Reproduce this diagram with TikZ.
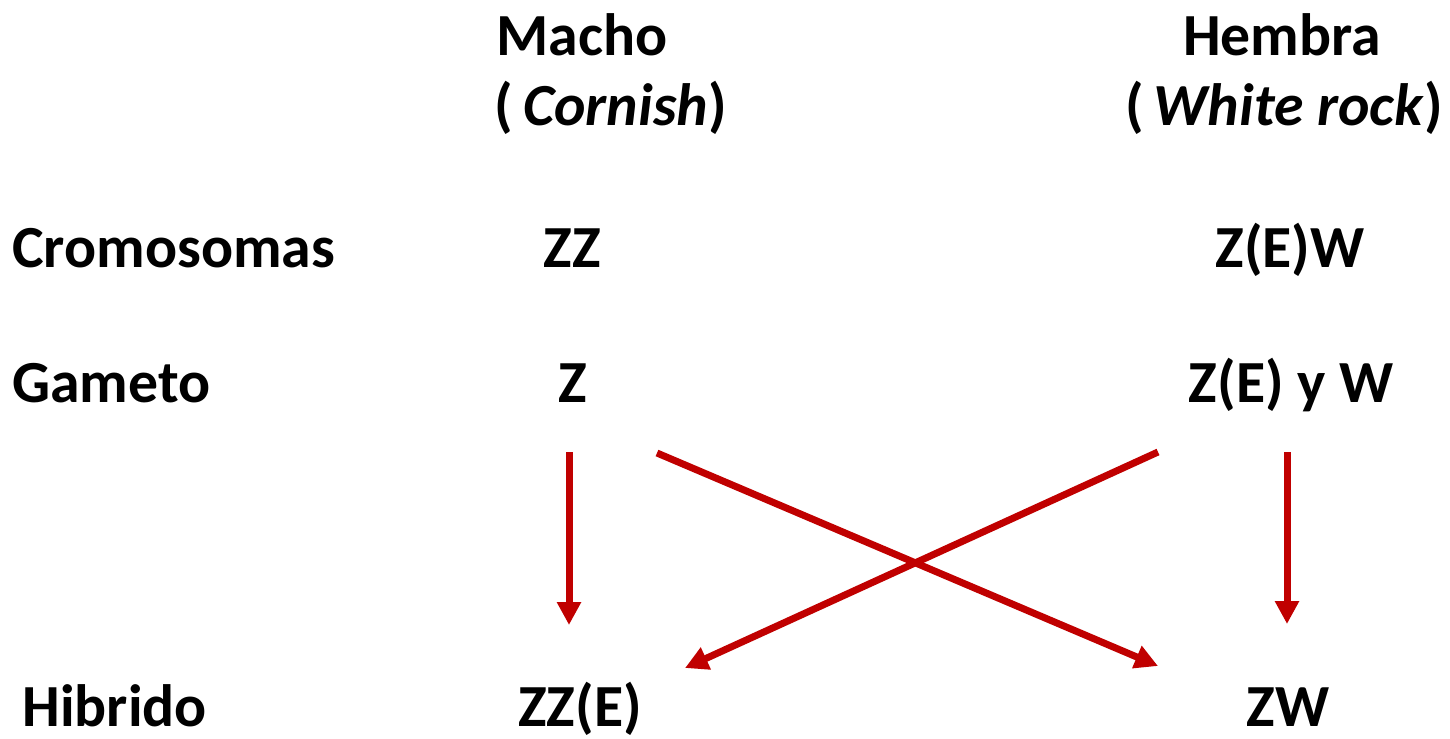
\documentclass[tikz,border=0pt]{standalone}
\usepackage{fontspec}
\setmainfont{Carlito}
\usepackage{xcolor}
\usetikzlibrary{arrows.meta,positioning}
\definecolor{crossred}{RGB}{192,0,0}

\begin{document}
\begin{tikzpicture}[
  x=0.02cm, y=-0.02cm,
  word/.style={font=\fontsize{34}{40}\selectfont\bfseries, inner sep=0pt, anchor=base},
  rowname/.style={word, anchor=base west},
  arrow/.style={-{Triangle[length=0.46cm,width=0.46cm]}, line width=0.14cm, crossred}
]
\useasboundingbox (0,0) rectangle (1450,738);

% column heads
\node[word] (macho) at (582,55) {Macho};
\node[word, anchor=base east] (cornish) at (727,125) {(\,\textit{Cornish})};
\node[word] (hembra) at (1282,55) {Hembra};
\node[word, anchor=base east] (whiterock) at (1443,125) {(\,\textit{White rock})};

% rows
\node[rowname] (cromosomas) at (12,267) {Cromosomas};
\node[word] (zz) at (572,267) {ZZ};
\node[word] (zew) at (1290,267) {Z(E)W};

\node[rowname] (gameto) at (12,402) {Gameto};
\node[word] (z) at (573,402) {Z};
\node[word] (zeyw) at (1291,402) {Z(E) y W};

\node[rowname] (hibrido) at (22,726) {Hibrido};
\node[word] (zze) at (580,726) {ZZ(E)};
\node[word] (zw) at (1288,726) {ZW};

% arrow ends
\coordinate (zdown) at (569,452);
\coordinate (zcross) at (657,453);
\coordinate (wcross) at (1158,452);
\coordinate (wdown) at (1287,452);
\coordinate (zzein) at (569,625);
\coordinate (zzecross) at (685,668);
\coordinate (zwcross) at (1158,666);
\coordinate (zwin) at (1287,624);

\draw[arrow] (zdown) -- (zzein);
\draw[arrow] (zcross) -- (zwcross);
\draw[arrow] (wcross) -- (zzecross);
\draw[arrow] (wdown) -- (zwin);
\end{tikzpicture}
\end{document}
